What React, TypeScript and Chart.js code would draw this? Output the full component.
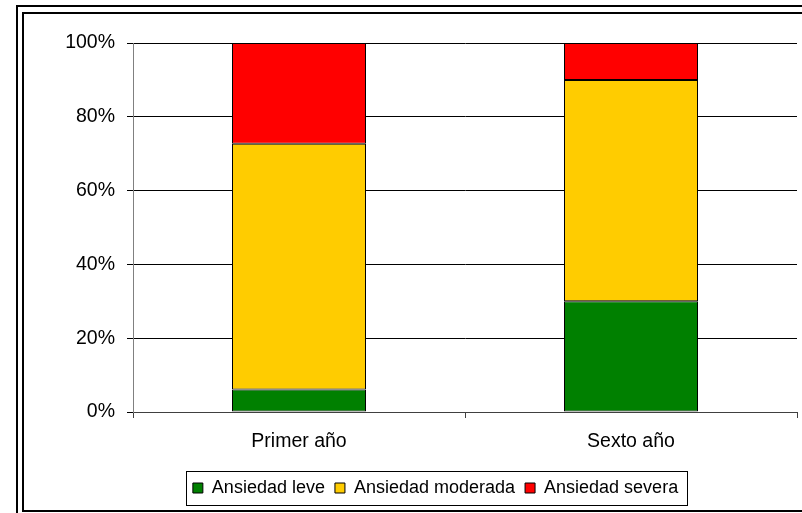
import React, { useEffect, useRef } from "react";
import { Chart, registerables } from "chart.js";

Chart.register(...registerables);

const categories = ["Primer año", "Sexto año"];
const seriesNames = ["Ansiedad leve", "Ansiedad moderada", "Ansiedad severa"];
const leve = [6.1, 30];
const moderada = [66.6, 60];
const severa = [27.3, 10];
const seriesColors = ["#008000", "#FFCC00", "#FF0000"];
const yTicks = [0, 20, 40, 60, 80, 100];

const FONT = "'Liberation Sans', Arial, sans-serif";

const legendShift = {
  id: "legendShift",
  afterLayout(chart: any) {
    const lg = chart.legend;
    if (!lg) return;
    lg.left += 25;
    lg.right += 25;
  },
};

const legendFrame = {
  id: "legendFrame",
  afterDraw(chart: any) {
    const lg = chart.legend;
    if (!lg || !lg.legendHitBoxes || !lg.legendHitBoxes.length) return;
    const hb = lg.legendHitBoxes;
    const first = hb[0];
    const last = hb[hb.length - 1];
    const x0 = Math.round(first.left - 7) + 0.5;
    const x1 = Math.round(last.left + last.width + 9) + 0.5;
    const y0 = Math.round(first.top - 8) + 0.5;
    const y1 = Math.round(first.top + first.height + 8) + 0.5;
    const ctx = chart.ctx;
    ctx.save();
    ctx.strokeStyle = "#000";
    ctx.lineWidth = 1;
    ctx.strokeRect(x0, y0, x1 - x0, y1 - y0);
    ctx.restore();
  },
};

export default function App() {
  const ref = useRef<HTMLCanvasElement | null>(null);

  useEffect(() => {
    if (!ref.current) return;
    const data = [leve, moderada, severa];
    const chart = new Chart(ref.current, {
      type: "bar",
      data: {
        labels: categories,
        datasets: seriesNames.map((name, i) => ({
          label: name,
          data: data[i],
          backgroundColor: seriesColors[i],
          borderColor: "#000",
          borderWidth: 1,
          borderSkipped: false,
          barPercentage: 134 / 332,
          categoryPercentage: 1,
        })),
      },
      options: {
        responsive: false,
        animation: false,
        devicePixelRatio: 1,
        layout: { padding: { left: 0, right: 5, top: 29, bottom: 3 } },
        plugins: {
          legend: {
            position: "bottom",
            labels: {
              boxWidth: 10,
              boxHeight: 10,
              padding: 10,
              color: "#000",
              font: { family: FONT, size: 18 },
            },
          },
          tooltip: { enabled: false },
        },
        scales: {
          x: {
            stacked: true,
            offset: true,
            grid: {
              display: true,
              drawOnChartArea: false,
              drawTicks: true,
              tickLength: 6,
              color: "#404040",
              offset: true,
            },
            border: { display: true, color: "#404040", width: 1 },
            ticks: {
              color: "#000",
              padding: 12,
              font: { family: FONT, size: 19.5 },
            },
            afterFit: (s: any) => {
              s.height = 57;
            },
          },
          y: {
            stacked: true,
            min: 0,
            max: 100,
            afterBuildTicks: (s: any) => {
              s.ticks = yTicks.map((v) => ({ value: v }));
            },
            grid: {
              color: "#000",
              tickLength: 6,
              drawTicks: true,
            },
            border: { display: true, color: "#808080", width: 1 },
            ticks: {
              color: "#000",
              padding: 12,
              font: { family: FONT, size: 19.5 },
              callback: (v: any) => `${v}%`,
            },
            afterFit: (s: any) => {
              s.width = 109;
            },
          },
        },
      },
      plugins: [legendShift, legendFrame],
    });
    return () => chart.destroy();
  }, []);

  return (
    <div
      style={{
        position: "absolute",
        left: 0,
        top: 0,
        width: 802,
        height: 513,
        overflow: "hidden",
        background: "#fff",
      }}
    >
      <div
        style={{
          position: "absolute",
          left: 16,
          top: 5,
          width: 820,
          height: 540,
          boxSizing: "border-box",
          border: "2px solid #000",
        }}
      />
      <div
        style={{
          position: "absolute",
          left: 22,
          top: 12,
          width: 820,
          height: 500,
          boxSizing: "border-box",
          border: "2px solid #000",
        }}
      />
      <canvas
        ref={ref}
        width={778}
        height={496}
        style={{ position: "absolute", left: 24, top: 14, width: 778, height: 496 }}
      />
    </div>
  );
}
